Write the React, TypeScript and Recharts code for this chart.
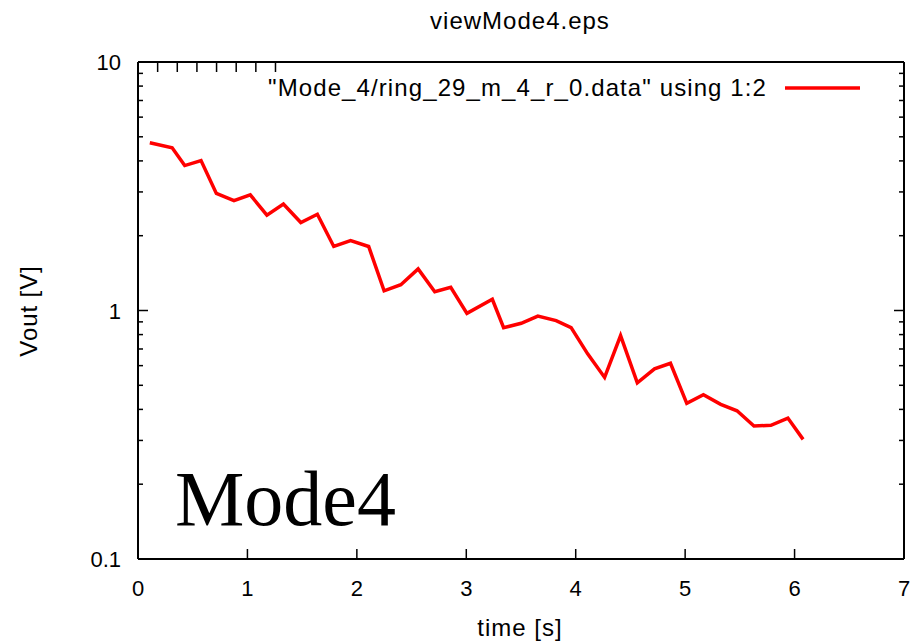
import React from "react";
import { LineChart, Line, XAxis, YAxis, Legend } from "recharts";

// sampled decay of the ring signal
const times = [
  0.108, 0.312, 0.427, 0.576, 0.716, 0.877, 1.026, 1.178, 1.329, 1.488,
  1.639, 1.789, 1.943, 2.108, 2.249, 2.402, 2.56, 2.712, 2.858, 3.006,
  3.238, 3.341, 3.502, 3.654, 3.821, 3.958, 4.109, 4.264, 4.41, 4.563,
  4.72, 4.866, 5.015, 5.167, 5.325, 5.474, 5.629, 5.784, 5.939, 6.078,
];
const vout = [
  4.73, 4.52, 3.83, 4.01, 2.96, 2.77, 2.92, 2.42, 2.68, 2.26,
  2.44, 1.81, 1.91, 1.81, 1.2, 1.27, 1.47, 1.19, 1.24, 0.974,
  1.11, 0.853, 0.888, 0.95, 0.91, 0.853, 0.669, 0.538, 0.792, 0.512,
  0.582, 0.613, 0.423, 0.458, 0.419, 0.395, 0.343, 0.345, 0.369, 0.303,
];

const xTicks = [0, 1, 2, 3, 4, 5, 6, 7];
const yTicks = [
  0.1, 0.2, 0.3, 0.4, 0.5, 0.6, 0.7, 0.8, 0.9,
  1, 2, 3, 4, 5, 6, 7, 8, 9, 10,
];
const yLabels: Record<number, string> = { 0.1: "0.1", 1: "1", 10: "10" };

const seriesName = '"Mode_4/ring_29_m_4_r_0.data" using 1:2';

const data = times.map((t, i) => ({ t, v: vout[i] }));

const font = "'Liberation Sans', Arial, Helvetica, sans-serif";
const black = "#000";
const red = "#ff0000";

const isMajor = (v: number) => v in yLabels;

function BottomTick({ x, y, payload }: any) {
  return (
    <g>
      <line x1={x} x2={x} y1={y} y2={y - 10} stroke={black} strokeWidth={1.5} />
      <text x={x} y={y + 36.5} textAnchor="middle" fontFamily={font} fontSize={22} fill={black}>
        {payload.value}
      </text>
    </g>
  );
}

function TopTick({ x, y }: any) {
  return <line x1={x} x2={x} y1={y} y2={y + 10} stroke={black} strokeWidth={1.5} />;
}

function LeftTick({ x, y, payload }: any) {
  const major = isMajor(payload.value);
  return (
    <g>
      <line x1={x} x2={x + (major ? 10 : 5)} y1={y} y2={y} stroke={black} strokeWidth={1.5} />
      {major && (
        <text x={x - 17} y={y + 8} textAnchor="end" fontFamily={font} fontSize={22} fill={black}>
          {yLabels[payload.value]}
        </text>
      )}
    </g>
  );
}

function RightTick({ x, y, payload }: any) {
  const major = isMajor(payload.value);
  return <line x1={x} x2={x - (major ? 10 : 5)} y1={y} y2={y} stroke={black} strokeWidth={1.5} />;
}

function KeyBox() {
  return (
    <svg width={620} height={34} style={{ display: "block" }}>
      <text x={507} y={24} textAnchor="end" fontFamily={font} fontSize={24} letterSpacing={1.1} fill={black}>
        {seriesName}
      </text>
      <line x1={525} x2={600} y1={16} y2={16} stroke={red} strokeWidth={3.5} />
    </svg>
  );
}

export default function App() {
  const border = { stroke: black, strokeWidth: 2 };
  return (
    <div style={{ position: "absolute", left: 0, top: 0, width: 916, height: 643, background: "#fff" }}>
      <LineChart
        width={916}
        height={643}
        data={data}
        margin={{ top: 60, right: 10, bottom: 25, left: 78 }}
      >
        <XAxis
          xAxisId="b"
          dataKey="t"
          type="number"
          domain={[0, 7]}
          ticks={xTicks}
          interval={0}
          height={25}
          tickSize={0}
          tickMargin={0}
          axisLine={border}
          tickLine={false}
          tick={<BottomTick />}
        />
        <XAxis
          xAxisId="t"
          orientation="top"
          type="number"
          domain={[0, 7]}
          ticks={xTicks}
          interval={0}
          height={2}
          tickSize={0}
          tickMargin={0}
          axisLine={border}
          tickLine={false}
          tick={<TopTick />}
        />
        <YAxis
          yAxisId="l"
          scale="log"
          type="number"
          domain={[0.1, 10]}
          allowDataOverflow
          ticks={yTicks}
          interval={0}
          width={60}
          tickSize={0}
          tickMargin={0}
          axisLine={border}
          tickLine={false}
          tick={<LeftTick />}
        />
        <YAxis
          yAxisId="r"
          orientation="right"
          scale="log"
          type="number"
          domain={[0.1, 10]}
          allowDataOverflow
          ticks={yTicks}
          interval={0}
          width={2}
          tickSize={0}
          tickMargin={0}
          axisLine={border}
          tickLine={false}
          tick={<RightTick />}
        />
        <Legend
          content={<KeyBox />}
          wrapperStyle={{ position: "absolute", top: 72, left: 260, width: 620, height: 34 }}
        />
        <Line
          xAxisId="b"
          yAxisId="l"
          type="linear"
          dataKey="v"
          name={seriesName}
          stroke={red}
          strokeWidth={3.5}
          dot={false}
          isAnimationActive={false}
        />
      </LineChart>
      <svg
        width={916}
        height={643}
        style={{ position: "absolute", left: 0, top: 0, pointerEvents: "none" }}
      >
        <text x={520} y={29} textAnchor="middle" fontFamily={font} fontSize={24} letterSpacing={1} fill={black}>
          viewMode4.eps
        </text>
        <text x={520} y={636} textAnchor="middle" fontFamily={font} fontSize={24} letterSpacing={1} fill={black}>
          time [s]
        </text>
        <text
          transform="translate(37 311) rotate(-90)"
          textAnchor="middle"
          fontFamily={font}
          fontSize={24}
          letterSpacing={0.9}
          fill={black}
        >
          Vout [V]
        </text>
        <text x={175} y={525} fontFamily="'Liberation Serif', 'Times New Roman', serif" fontSize={78} fill={black}>
          Mode4
        </text>
      </svg>
    </div>
  );
}
